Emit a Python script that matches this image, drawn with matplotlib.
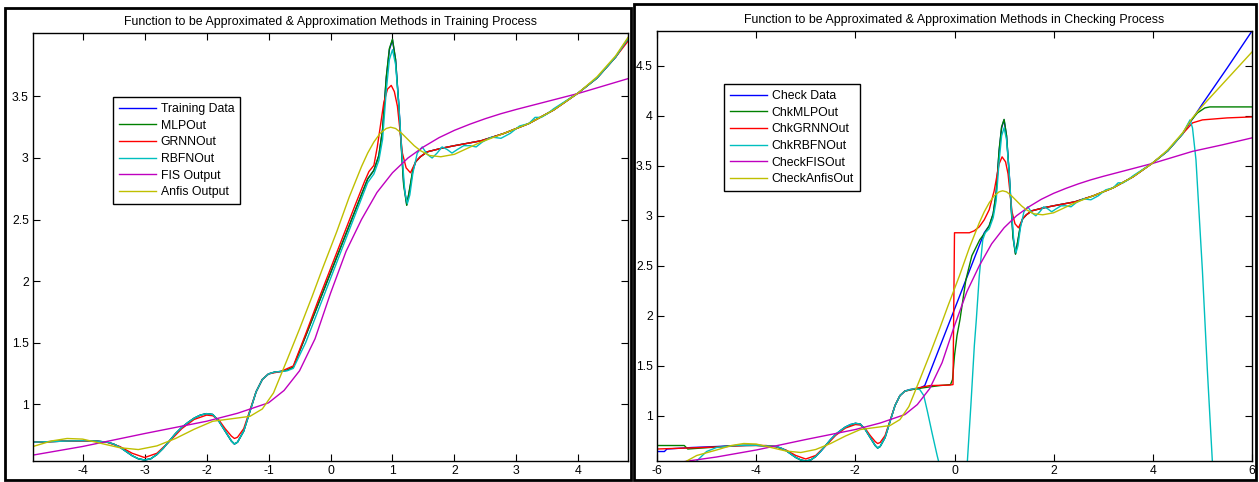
import matplotlib
matplotlib.use("Agg")
import matplotlib.pyplot as plt
from matplotlib.patches import Rectangle

plt.rcParams['font.family'] = ['Liberation Sans', 'DejaVu Sans']

# ---------------- Training panel ----------------
train_x = [-4.8, -4.5, -4.2, -4.0, -3.8, -3.6, -3.5, -3.4, -3.3, -3.2,
           -3.1, -3.0, -2.9, -2.8, -2.7, -2.6, -2.5, -2.4, -2.3, -2.2,
           -2.1, -2.0, -1.9, -1.8, -1.7, -1.6, -1.55, -1.5, -1.4, -1.3,
           -1.2, -1.1, -1.0, -0.9, -0.8, -0.7, -0.6, -0.4, -0.2, 0.0,
           0.2, 0.4, 0.6, 0.7, 0.78, 0.84, 0.9, 0.95, 1.0, 1.05,
           1.1, 1.13, 1.18, 1.23, 1.28, 1.33, 1.375, 1.45, 1.56, 1.8,
           2.0, 2.43, 2.8, 3.2, 3.6, 4.0, 4.3, 4.6, 4.8]
train_y = [0.69, 0.695, 0.70, 0.702, 0.70, 0.69, 0.675, 0.65, 0.615, 0.58,
           0.555, 0.545, 0.555, 0.59, 0.64, 0.70, 0.76, 0.81, 0.85, 0.885,
           0.91, 0.922, 0.915, 0.86, 0.78, 0.70, 0.675, 0.69, 0.78, 0.94,
           1.10, 1.20, 1.245, 1.26, 1.265, 1.275, 1.30, 1.555, 1.81, 2.065,
           2.32, 2.575, 2.83, 2.90, 3.02, 3.23, 3.65, 3.88, 3.96, 3.80,
           3.45, 3.20, 2.80, 2.62, 2.75, 2.90, 2.97, 3.01, 3.05, 3.08,
           3.10, 3.14, 3.20, 3.28, 3.39, 3.53, 3.65, 3.82, 3.97]

mlp_x = list(train_x)
mlp_y = [0.69, 0.695, 0.70, 0.702, 0.70, 0.69, 0.675, 0.65, 0.615, 0.58,
         0.555, 0.545, 0.555, 0.59, 0.64, 0.70, 0.76, 0.81, 0.85, 0.885,
         0.91, 0.922, 0.915, 0.86, 0.78, 0.70, 0.675, 0.69, 0.78, 0.94,
         1.10, 1.20, 1.245, 1.26, 1.265, 1.275, 1.30, 1.555, 1.81, 2.065,
         2.32, 2.575, 2.83, 2.90, 3.02, 3.23, 3.66, 3.89, 3.965, 3.80,
         3.44, 3.18, 2.78, 2.615, 2.76, 2.91, 2.97, 3.01, 3.05, 3.08,
         3.10, 3.14, 3.20, 3.28, 3.39, 3.53, 3.65, 3.82, 3.97]

grnn_x = [-4.8, -4.2, -3.8, -3.6, -3.4, -3.2, -3.0, -2.8, -2.6, -2.4,
          -2.2, -2.0, -1.9, -1.8, -1.7, -1.6, -1.55, -1.5, -1.4, -1.3,
          -1.2, -1.1, -1.0, -0.8, -0.6, -0.4, -0.2, 0.0, 0.2, 0.4,
          0.55, 0.62, 0.7, 0.755, 0.86, 0.92, 0.98, 1.03, 1.08, 1.16,
          1.22, 1.29, 1.375, 1.45, 1.56, 1.8, 2.0, 2.43, 2.8, 3.2,
          3.6, 4.0, 4.3, 4.6, 4.8]
grnn_y = [0.69, 0.70, 0.70, 0.688, 0.655, 0.60, 0.565, 0.60, 0.695, 0.80,
          0.875, 0.91, 0.905, 0.87, 0.80, 0.74, 0.72, 0.73, 0.80, 0.95,
          1.10, 1.20, 1.245, 1.265, 1.31, 1.57, 1.84, 2.10, 2.36, 2.62,
          2.81, 2.89, 2.94, 3.09, 3.45, 3.56, 3.59, 3.54, 3.42, 3.04,
          2.92, 2.88, 2.97, 3.01, 3.05, 3.08, 3.10, 3.14, 3.20, 3.28,
          3.39, 3.53, 3.65, 3.82, 3.95]

rbfn_x = [-4.8, -4.5, -4.2, -4.0, -3.8, -3.6, -3.5, -3.4, -3.3, -3.2,
          -3.1, -3.0, -2.9, -2.8, -2.7, -2.6, -2.5, -2.4, -2.3, -2.2,
          -2.1, -2.0, -1.9, -1.8, -1.7, -1.6, -1.55, -1.5, -1.4, -1.3,
          -1.2, -1.1, -1.0, -0.9, -0.8, -0.7, -0.6, -0.4, -0.2, 0.0,
          0.2, 0.4, 0.6, 0.7, 0.78, 0.84, 0.9, 0.95, 1.0, 1.05,
          1.1, 1.15, 1.2, 1.24, 1.28, 1.33, 1.4, 1.48, 1.56, 1.64,
          1.72, 1.8, 1.88, 1.96, 2.05, 2.15, 2.25, 2.35, 2.45, 2.6,
          2.75, 2.9, 3.05, 3.2, 3.3, 3.4, 3.5, 3.6, 4.0, 4.3,
          4.6, 4.8]
rbfn_y = [0.69, 0.695, 0.70, 0.702, 0.70, 0.69, 0.675, 0.65, 0.615, 0.58,
          0.555, 0.545, 0.555, 0.59, 0.64, 0.70, 0.76, 0.81, 0.85, 0.885,
          0.91, 0.922, 0.915, 0.86, 0.78, 0.70, 0.675, 0.69, 0.78, 0.94,
          1.10, 1.20, 1.245, 1.26, 1.265, 1.27, 1.29, 1.50, 1.76, 2.02,
          2.28, 2.54, 2.80, 2.87, 2.98, 3.15, 3.55, 3.80, 3.88, 3.76,
          3.45, 3.05, 2.72, 2.63, 2.70, 2.88, 3.04, 3.09, 3.03, 3.00,
          3.04, 3.09, 3.07, 3.04, 3.07, 3.10, 3.10, 3.09, 3.13, 3.17,
          3.16, 3.20, 3.26, 3.28, 3.33, 3.33, 3.36, 3.40, 3.53, 3.65,
          3.82, 3.97]

fis_x = [-4.8, -4.0, -3.0, -2.5, -2.0, -1.5, -1.0, -0.75, -0.5, -0.25,
         0.0, 0.25, 0.5, 0.75, 1.0, 1.25, 1.5, 1.75, 2.0, 2.25,
         2.5, 2.75, 3.0, 3.5, 4.0, 4.4, 4.8]
fis_y = [0.585, 0.655, 0.76, 0.81, 0.86, 0.925, 1.01, 1.11, 1.27, 1.53,
         1.90, 2.24, 2.50, 2.72, 2.88, 3.00, 3.09, 3.165, 3.225, 3.275,
         3.32, 3.36, 3.395, 3.46, 3.525, 3.585, 3.645]

anfis_x = [-4.8, -4.5, -4.25, -4.0, -3.7, -3.4, -3.1, -2.8, -2.5, -2.2,
           -1.9, -1.6, -1.3, -1.1, -0.92, -0.7, -0.5, -0.3, -0.13, 0.1,
           0.3, 0.5, 0.6, 0.7, 0.8, 0.9, 0.97, 1.05, 1.15, 1.25,
           1.35, 1.45, 1.6, 1.78, 2.0, 2.43, 2.8, 3.2, 3.6, 4.0,
           4.3, 4.6, 4.8]
anfis_y = [0.655, 0.70, 0.72, 0.715, 0.68, 0.645, 0.63, 0.66, 0.72, 0.795,
           0.86, 0.88, 0.90, 0.96, 1.09, 1.36, 1.61, 1.87, 2.10, 2.40,
           2.68, 2.93, 3.04, 3.13, 3.20, 3.24, 3.25, 3.24, 3.20, 3.15,
           3.10, 3.06, 3.02, 3.01, 3.03, 3.13, 3.20, 3.28, 3.39, 3.53,
           3.66, 3.83, 3.98]

# ---------------- Checking panel ----------------
chk_x = [-6.0, -5.85, -5.8, -5.3, -4.8, -4.4, -4.0, -3.6, -3.5, -3.4,
         -3.3, -3.2, -3.1, -3.0, -2.9, -2.8, -2.7, -2.6, -2.5, -2.4,
         -2.3, -2.2, -2.1, -2.0, -1.9, -1.8, -1.7, -1.6, -1.55, -1.5,
         -1.4, -1.3, -1.2, -1.1, -1.0, -0.9, -0.8, -0.7, -0.6, -0.4,
         -0.2, 0.0, 0.2, 0.4, 0.6, 0.7, 0.78, 0.84, 0.9, 0.95,
         1.0, 1.05, 1.1, 1.13, 1.18, 1.23, 1.28, 1.33, 1.375, 1.45,
         1.56, 1.8, 2.0, 2.43, 2.8, 3.2, 3.6, 4.0, 4.3, 4.6,
         4.8, 5.0, 5.5, 6.0]
chk_y = [0.64, 0.64, 0.665, 0.68, 0.69, 0.70, 0.702, 0.69, 0.675, 0.65,
         0.615, 0.58, 0.555, 0.545, 0.555, 0.59, 0.64, 0.70, 0.76, 0.81,
         0.85, 0.885, 0.91, 0.922, 0.915, 0.86, 0.78, 0.70, 0.675, 0.69,
         0.78, 0.94, 1.10, 1.20, 1.245, 1.26, 1.265, 1.275, 1.30, 1.555,
         1.81, 2.065, 2.32, 2.575, 2.83, 2.90, 3.02, 3.23, 3.65, 3.88,
         3.96, 3.80, 3.45, 3.20, 2.80, 2.62, 2.75, 2.90, 2.97, 3.01,
         3.05, 3.08, 3.10, 3.14, 3.20, 3.28, 3.39, 3.53, 3.65, 3.82,
         3.97, 4.12, 4.48, 4.85]

chk_mlp_x = [-6.0, -5.45, -5.38, -4.8, -4.4, -4.0, -3.6, -3.4, -3.2, -3.1,
             -3.0, -2.9, -2.8, -2.6, -2.4, -2.2, -2.0, -1.9, -1.8, -1.7,
             -1.6, -1.55, -1.5, -1.4, -1.3, -1.2, -1.1, -1.0, -0.8, -0.6,
             -0.3, -0.08, -0.04, 0.0, 0.05, 0.11, 0.23, 0.35, 0.51, 0.6,
             0.7, 0.78, 0.84, 0.9, 0.95, 1.0, 1.05, 1.1, 1.13, 1.18,
             1.23, 1.28, 1.33, 1.375, 1.45, 1.56, 1.8, 2.0, 2.43, 2.8,
             3.2, 3.6, 4.0, 4.3, 4.6, 4.73, 4.9, 5.05, 5.15, 6.0]
chk_mlp_y = [0.70, 0.70, 0.665, 0.685, 0.70, 0.702, 0.69, 0.65, 0.58, 0.555,
             0.545, 0.555, 0.59, 0.70, 0.81, 0.885, 0.922, 0.915, 0.86, 0.78,
             0.70, 0.675, 0.69, 0.78, 0.94, 1.10, 1.20, 1.245, 1.265, 1.28,
             1.30, 1.31, 1.36, 1.60, 1.80, 1.96, 2.36, 2.60, 2.76, 2.82,
             2.90, 3.02, 3.23, 3.66, 3.89, 3.965, 3.80, 3.44, 3.18, 2.78,
             2.615, 2.76, 2.91, 2.97, 3.01, 3.05, 3.08, 3.10, 3.14, 3.20,
             3.28, 3.39, 3.53, 3.65, 3.82, 3.93, 4.03, 4.08, 4.09, 4.09]

chk_grnn_x = [-6.0, -4.8, -4.2, -3.8, -3.6, -3.4, -3.2, -3.0, -2.8, -2.6,
              -2.4, -2.2, -2.0, -1.9, -1.8, -1.7, -1.6, -1.55, -1.5, -1.4,
              -1.3, -1.2, -1.1, -1.0, -0.8, -0.5, -0.1, -0.03, 0.0, 0.3,
              0.4, 0.5, 0.6, 0.7, 0.8, 0.9, 0.96, 1.03, 1.08, 1.16,
              1.22, 1.29, 1.375, 1.45, 1.56, 1.8, 2.0, 2.43, 2.8, 3.2,
              3.6, 4.0, 4.3, 4.6, 4.8, 5.0, 5.5, 6.0]
chk_grnn_y = [0.665, 0.685, 0.70, 0.70, 0.688, 0.655, 0.60, 0.565, 0.60, 0.695,
              0.80, 0.875, 0.91, 0.905, 0.87, 0.80, 0.74, 0.72, 0.73, 0.80,
              0.95, 1.10, 1.20, 1.245, 1.27, 1.30, 1.305, 1.31, 2.83, 2.83,
              2.85, 2.89, 2.96, 3.06, 3.25, 3.52, 3.59, 3.54, 3.42, 3.04,
              2.92, 2.88, 2.97, 3.01, 3.05, 3.08, 3.10, 3.14, 3.20, 3.28,
              3.39, 3.53, 3.65, 3.82, 3.93, 3.96, 3.98, 3.99]

chk_rbfn_x = [-5.35, -5.2, -5.0, -4.8, -4.4, -4.0, -3.6, -3.5, -3.4, -3.3,
              -3.2, -3.1, -3.0, -2.9, -2.8, -2.7, -2.6, -2.5, -2.4, -2.3,
              -2.2, -2.1, -2.0, -1.9, -1.8, -1.7, -1.6, -1.55, -1.5, -1.4,
              -1.3, -1.2, -1.1, -1.0, -0.9, -0.8, -0.7, -0.62, -0.55, -0.45,
              -0.35, -0.3, -0.25, 0.2, 0.26, 0.33, 0.4, 0.44, 0.5, 0.57,
              0.62, 0.7, 0.78, 0.84, 0.9, 0.95, 1.0, 1.05, 1.1, 1.15,
              1.2, 1.24, 1.28, 1.33, 1.4, 1.48, 1.56, 1.64, 1.72, 1.8,
              1.88, 1.96, 2.05, 2.15, 2.25, 2.35, 2.45, 2.6, 2.75, 2.9,
              3.05, 3.2, 3.3, 3.4, 3.5, 3.6, 4.0, 4.3, 4.6, 4.75,
              4.8, 4.87, 5.0, 5.1, 5.2, 5.3]
chk_rbfn_y = [0.30, 0.545, 0.64, 0.68, 0.70, 0.702, 0.69, 0.675, 0.65, 0.615,
              0.58, 0.555, 0.545, 0.555, 0.59, 0.64, 0.70, 0.76, 0.81, 0.85,
              0.885, 0.91, 0.922, 0.915, 0.86, 0.78, 0.70, 0.675, 0.69, 0.78,
              0.94, 1.10, 1.20, 1.245, 1.26, 1.27, 1.26, 1.20, 1.05, 0.82,
              0.60, 0.50, 0.38, 0.30, 0.545, 1.10, 1.70, 1.96, 2.40, 2.76,
              2.83, 2.87, 2.98, 3.15, 3.55, 3.80, 3.88, 3.76, 3.45, 3.05,
              2.72, 2.63, 2.70, 2.88, 3.04, 3.09, 3.03, 3.00, 3.04, 3.09,
              3.07, 3.04, 3.07, 3.10, 3.10, 3.09, 3.13, 3.17, 3.16, 3.20,
              3.26, 3.28, 3.33, 3.33, 3.36, 3.40, 3.53, 3.65, 3.82, 3.96,
              3.88, 3.56, 2.45, 1.45, 0.545, -0.40]

chk_fis_x = [-6.0, -5.37, -4.8, -4.0, -3.0, -2.5, -2.0, -1.5, -1.0, -0.75,
             -0.5, -0.25, 0.0, 0.25, 0.5, 0.75, 1.0, 1.25, 1.5, 1.75,
             2.0, 2.25, 2.5, 2.75, 3.0, 3.5, 4.0, 4.4, 4.8, 5.4,
             6.0]
chk_fis_y = [0.49, 0.545, 0.585, 0.655, 0.76, 0.81, 0.86, 0.925, 1.01, 1.11,
             1.27, 1.53, 1.90, 2.24, 2.50, 2.72, 2.88, 3.00, 3.09, 3.165,
             3.225, 3.275, 3.32, 3.36, 3.395, 3.46, 3.525, 3.585, 3.645, 3.71,
             3.78]

chk_anfis_x = [-6.0, -5.4, -5.2, -4.8, -4.5, -4.25, -4.0, -3.7, -3.4, -3.1,
               -2.8, -2.5, -2.2, -1.9, -1.6, -1.3, -1.1, -0.92, -0.7, -0.5,
               -0.3, -0.13, 0.1, 0.3, 0.5, 0.6, 0.7, 0.8, 0.9, 0.97,
               1.05, 1.15, 1.25, 1.35, 1.45, 1.6, 1.78, 2.0, 2.43, 2.8,
               3.2, 3.6, 4.0, 4.3, 4.6, 4.8, 5.0, 5.5, 6.0]
chk_anfis_y = [0.25, 0.545, 0.60, 0.655, 0.70, 0.72, 0.715, 0.68, 0.645, 0.63,
               0.66, 0.72, 0.795, 0.86, 0.88, 0.90, 0.96, 1.09, 1.36, 1.61,
               1.87, 2.10, 2.40, 2.68, 2.93, 3.04, 3.13, 3.20, 3.24, 3.25,
               3.24, 3.20, 3.15, 3.10, 3.06, 3.02, 3.01, 3.03, 3.13, 3.20,
               3.28, 3.39, 3.53, 3.66, 3.83, 3.98, 4.10, 4.37, 4.64]

train_labels = ['Training Data', 'MLPOut', 'GRNNOut', 'RBFNOut',
                'FIS Output', 'Anfis Output']
check_labels = ['Check Data', 'ChkMLPOut', 'ChkGRNNOut', 'ChkRBFNOut',
                'CheckFISOut', 'CheckAnfisOut']
train_ticks_x = [-4, -3, -2, -1, 0, 1, 2, 3, 4]
train_ticks_y = [1, 1.5, 2, 2.5, 3, 3.5]
check_ticks_x = [-6, -4, -2, 0, 2, 4, 6]
check_ticks_y = [1, 1.5, 2, 2.5, 3, 3.5, 4, 4.5]

colors = ['#0000FF', '#008000', '#FF0000', '#00BFBF', '#BF00BF', '#BFBF00']

W, H = 1259, 482
fig = plt.figure(figsize=(W / 100, H / 100), dpi=100)


def px_rect(left, top, right, bottom):
    return [left / W, 1 - bottom / H, (right - left) / W, (bottom - top) / H]


# window frames around each panel
fig.patches.append(Rectangle((5 / W, 2 / H), 626 / W, 472 / H, transform=fig.transFigure,
                             fill=False, edgecolor='black', linewidth=2.0))
fig.patches.append(Rectangle((634 / W, 2 / H), 622 / W, 476 / H, transform=fig.transFigure,
                             fill=False, edgecolor='black', linewidth=2.0))

ax1 = fig.add_axes(px_rect(33, 33, 628, 461))
ax2 = fig.add_axes(px_rect(657, 31, 1252, 461))

series1 = [(train_x, train_y), (mlp_x, mlp_y), (grnn_x, grnn_y),
           (rbfn_x, rbfn_y), (fis_x, fis_y), (anfis_x, anfis_y)]
series2 = [(chk_x, chk_y), (chk_mlp_x, chk_mlp_y), (chk_grnn_x, chk_grnn_y),
           (chk_rbfn_x, chk_rbfn_y), (chk_fis_x, chk_fis_y), (chk_anfis_x, chk_anfis_y)]

for ax, series, labels in ((ax1, series1, train_labels), (ax2, series2, check_labels)):
    for (xs, ys), c, lab in zip(series, colors, labels):
        ax.plot(xs, ys, color=c, linewidth=1.0, label=lab)

ax1.set_xlim(-4.8, 4.8)
ax1.set_ylim(0.537, 4.016)
ax1.set_xticks(train_ticks_x)
ax1.set_yticks(train_ticks_y)
ax1.set_xticklabels([f'{t:g}' for t in train_ticks_x])
ax1.set_yticklabels([f'{t:g}' for t in train_ticks_y])
ax1.set_title('Function to be Approximated & Approximation Methods in Training Process',
              fontsize=8.9, pad=6)

ax2.set_xlim(-6, 6)
ax2.set_ylim(0.545, 4.85)
ax2.set_xticks(check_ticks_x)
ax2.set_yticks(check_ticks_y)
ax2.set_xticklabels([f'{t:g}' for t in check_ticks_x])
ax2.set_yticklabels([f'{t:g}' for t in check_ticks_y])
ax2.set_title('Function to be Approximated & Approximation Methods in Checking Process',
              fontsize=8.9, pad=6)

for ax in (ax1, ax2):
    ax.tick_params(direction='in', length=5, width=0.8, top=True, right=True,
                   labelsize=8.8, pad=3, colors='black')
    for sp in ax.spines.values():
        sp.set_linewidth(1.0)
        sp.set_color('black')

leg_kw = dict(loc='upper left', bbox_transform=fig.transFigure, borderaxespad=0,
              fontsize=8.8, frameon=True, fancybox=False, framealpha=1,
              edgecolor='black', handlelength=3.0, handletextpad=0.4,
              labelspacing=0.38, borderpad=0.5)
l1 = ax1.legend(bbox_to_anchor=(113 / W, 1 - 97 / H), **leg_kw)
l2 = ax2.legend(bbox_to_anchor=(724 / W, 1 - 84 / H), **leg_kw)
for lg in (l1, l2):
    lg.get_frame().set_linewidth(1.0)

fig.savefig('out.png', dpi=100)
